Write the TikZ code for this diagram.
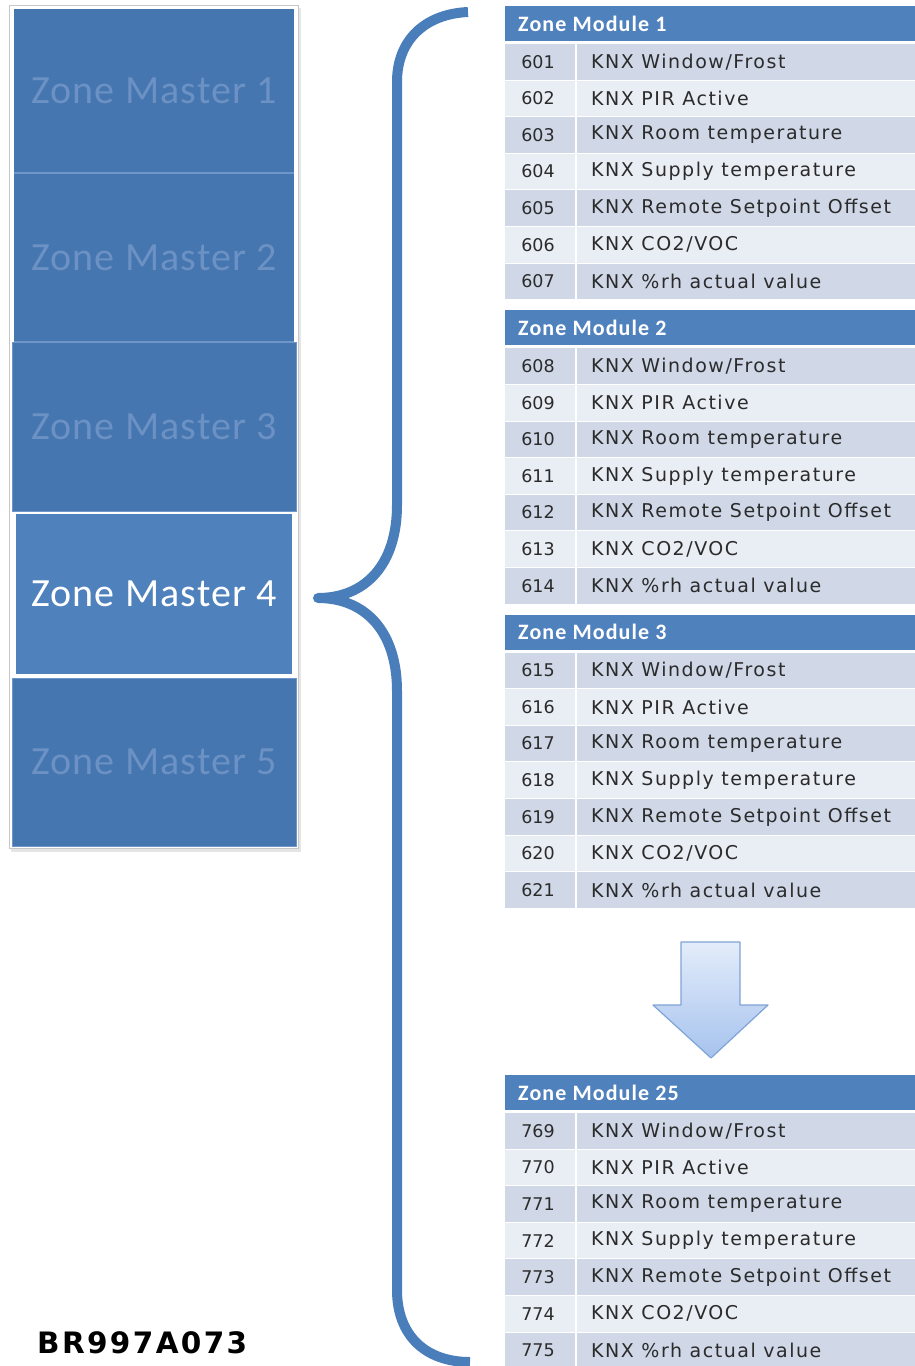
\documentclass[tikz,border=0pt]{standalone}
\usepackage{fontspec}
\setmainfont{Carlito}
\newfontfamily\zmfont[LetterSpace=3]{Carlito}
\newfontfamily\hdrfont[LetterSpace=5]{Carlito}
\newfontfamily\rowfont[LetterSpace=8]{DejaVu Sans}
\newfontfamily\numfont{DejaVu Sans}
\newfontfamily\codefont[LetterSpace=8]{DejaVu Sans}
\usetikzlibrary{calc}

\definecolor{zmdark}{HTML}{4676AF}
\definecolor{zmlight}{HTML}{4F81BD}
\definecolor{zmfade}{HTML}{6C91C4}
\definecolor{zmedge}{HTML}{6E96C8}
\definecolor{hdrblue}{HTML}{4F81BD}
\definecolor{rowdark}{HTML}{D0D8E8}
\definecolor{rowlight}{HTML}{E9EDF4}
\definecolor{bracecol}{HTML}{4A7EBB}
\definecolor{arrowtop}{HTML}{E3ECFA}
\definecolor{arrowbot}{HTML}{A6C3EE}
\definecolor{arrowline}{HTML}{7FA3D6}
\definecolor{txtgray}{HTML}{2B2B2B}

\tikzset{
  zmbox/.style={rectangle, inner sep=0pt, outer sep=0pt, fill=zmdark,
    text=zmfade, font=\zmfont\fontsize{40}{40}\selectfont},
  hdrbar/.style={rectangle, inner sep=0pt, outer sep=0pt, fill=hdrblue,
    minimum width=410, minimum height=35, anchor=north west},
  hdrtext/.style={inner sep=0pt, anchor=west, text=white,
    font=\hdrfont\bfseries\fontsize{22}{22}\selectfont},
  rowbar/.style={rectangle, inner sep=0pt, outer sep=0pt,
    minimum width=410, minimum height=35.6, anchor=north west},
  numtext/.style={inner sep=0pt, text=txtgray, font=\numfont\fontsize{17.5}{17.5}\selectfont},
  labtext/.style={inner sep=0pt, anchor=west, text=txtgray,
    font=\rowfont\fontsize{19}{19}\selectfont},
  bracepath/.style={draw=bracecol, line width=10, line join=round},
}

\begin{document}
\begin{tikzpicture}[x=1pt, y=-1pt]
\useasboundingbox (0,0) rectangle (915,1366);
\clip (0,0) rectangle (915,1366);

% stack of zone masters with its frame and shadow
\fill[black!10] (11,8) rectangle (301,852);
\filldraw[fill=white, draw=black!22, line width=1] (9,5) rectangle (298,848);

\node[zmbox, minimum width=280, minimum height=164] (zm1) at (154,91) {Zone Master 1};
\node[zmbox, minimum width=280, minimum height=169] (zm2) at (154,257.5) {Zone Master 2};
\node[zmbox, minimum width=284, minimum height=169] (zm3) at (154,426.5) {Zone Master 3};
\node[zmbox, minimum width=284, minimum height=168] (zm5) at (154,762) {Zone Master 5};
\draw[zmedge, line width=2.5] (zm1.south west) -- (zm1.south east);
\draw[zmedge, line width=2.5] (zm2.south west) -- (zm2.south east);
\draw[zmedge, line width=1] (zm3.north west) rectangle (zm3.south east);
\draw[zmedge, line width=1] (zm5.north west) rectangle (zm5.south east);
\node[zmbox, fill=zmlight, text=white, draw=white, line width=2,
  minimum width=278, minimum height=162] (zm4) at (154,594) {Zone Master 4};

% curly brace from zone master 4 to the zone modules
\coordinate (btop) at (468,12);
\coordinate (btip) at (318,598);
\coordinate (bbot) at (470,1362);
\draw[bracepath] (btop) .. controls (425,14) and (397,40) .. (397,82)
  -- (397,505) .. controls (397,565) and (365,598) .. (btip)
  .. controls (365,598) and (397,631) .. (397,691)
  -- (397,1290) .. controls (397,1335) and (425,1362) .. (bbot);

% zone module tables
\foreach \tp/\title/\first [count=\t] in {6/1/601, 310.3/2/608, 614.6/3/615, 1075/25/769} {
  \node[hdrbar] (hdr\t) at (505,\tp) {};
  \node[hdrtext] at ($(hdr\t.west)+(13,0)$) {Zone Module \title};
  \foreach \lab [count=\i] in {{KNX Window/Frost}, {KNX PIR Active},
      {KNX Room temperature}, {KNX Supply temperature},
      {KNX Remote Setpoint Offset}, {KNX CO2/VOC}, {KNX \%rh actual value}} {
    \pgfmathtruncatemacro\num{\first+\i-1}
    \pgfmathsetmacro\ry{\tp+38+(\i-1)*36.6}
    \ifodd\i \def\rc{rowdark}\else\def\rc{rowlight}\fi
    \node[rowbar, fill=\rc] (row\t-\i) at (505,\ry) {};
    \node[numtext] at ($(row\t-\i.west)+(33,0)$) {\num};
    \node[labtext] at ($(row\t-\i.west)+(86,0)$) {\lab};
  }
  \draw[white, line width=2] ($(row\t-1.north west)+(71,0)$) -- ($(row\t-7.south west)+(71,0)$);
}

% down arrow between module 3 and module 25
\coordinate (a1) at (681,942);
\coordinate (a2) at (740,942);
\coordinate (a3) at (740,1005);
\coordinate (a4) at (768,1005);
\coordinate (tip) at (711,1058);
\coordinate (a6) at (653,1005);
\coordinate (a7) at (681,1005);
\shade[top color=arrowtop, bottom color=arrowbot, draw=arrowline, line width=1.2, line join=round]
  (a1) -- (a2) -- (a3) -- (a4) -- (tip) -- (a6) -- (a7) -- cycle;

% drawing reference
\node[inner sep=0pt, anchor=west, font=\codefont\bfseries\fontsize{29.5}{29.5}\selectfont] (code) at (37,1343) {BR997A073};
\end{tikzpicture}
\end{document}
